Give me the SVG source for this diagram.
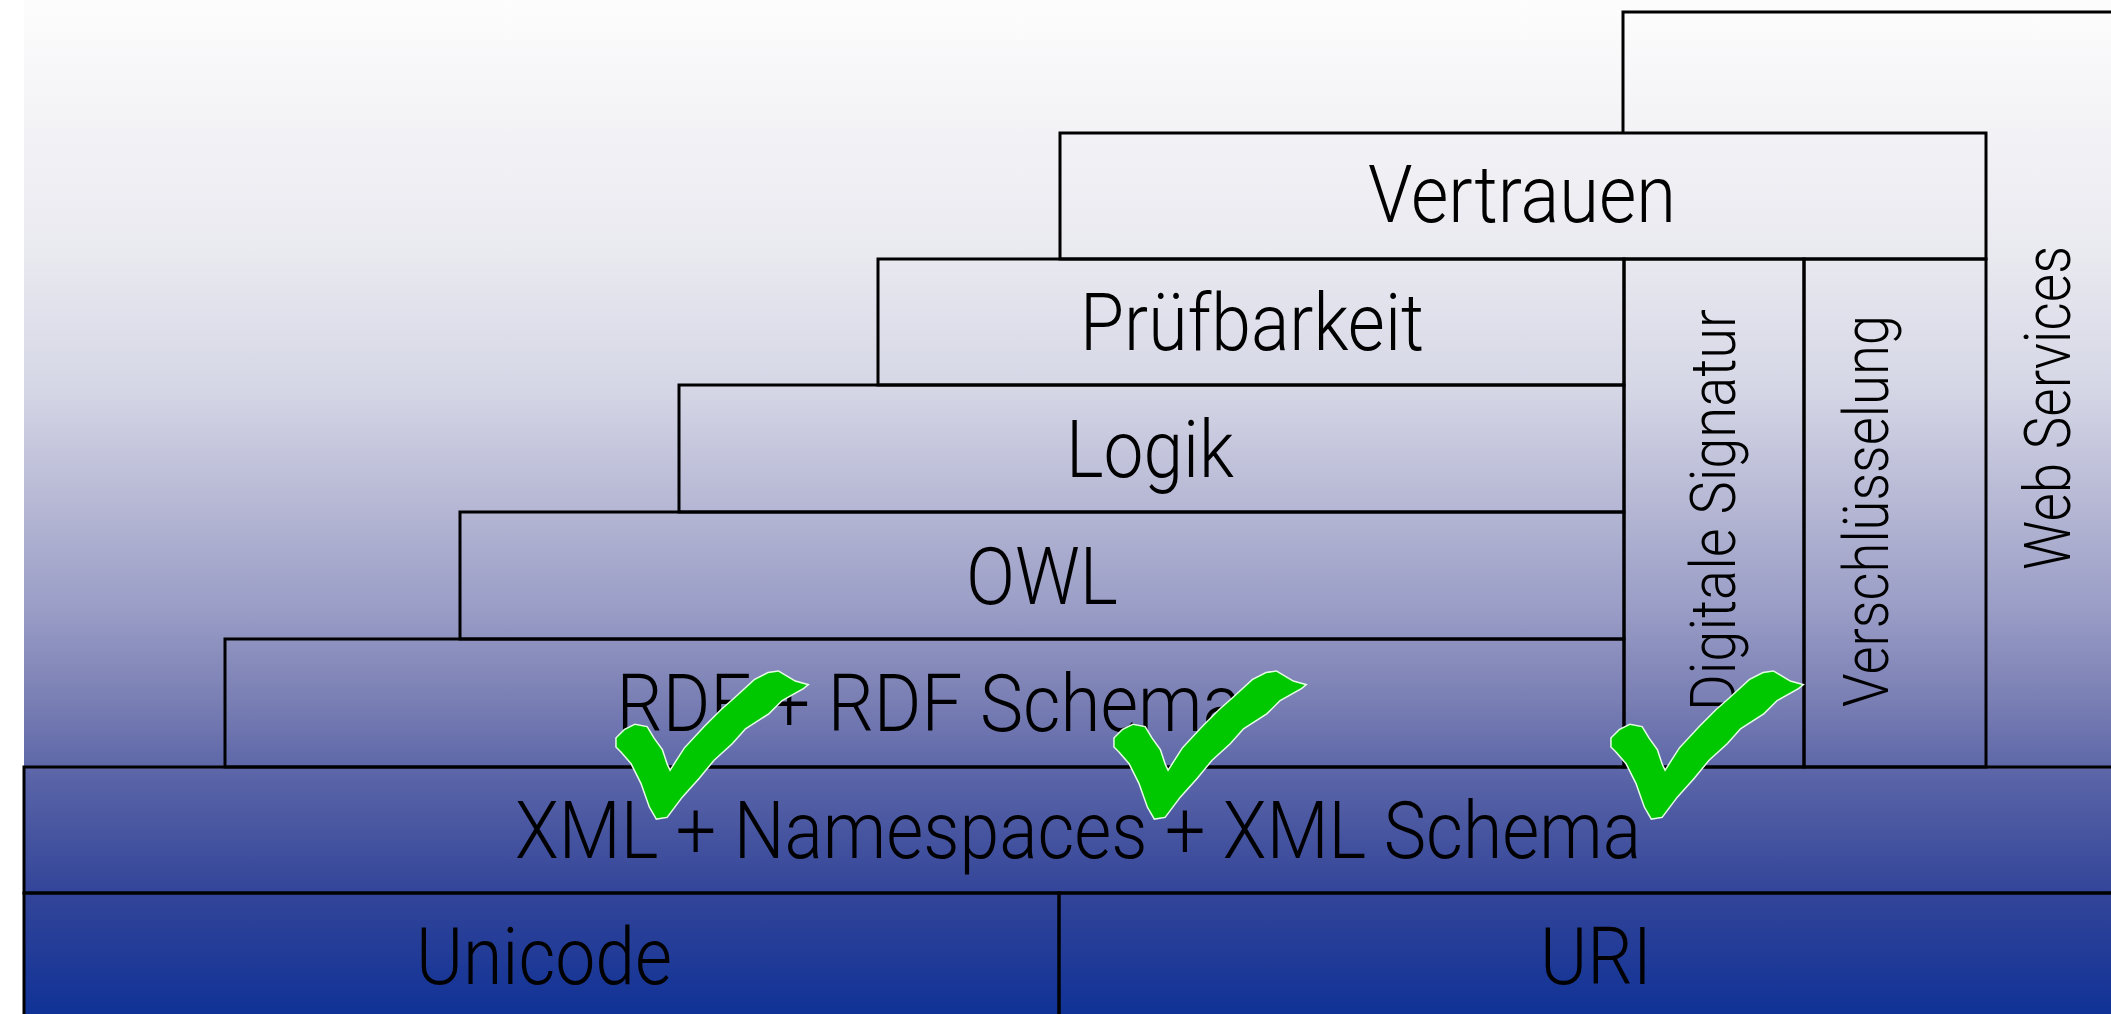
<svg xmlns="http://www.w3.org/2000/svg" xmlns:xlink="http://www.w3.org/1999/xlink" width="2111" height="1014" viewBox="0 0 2111 1014">
  <defs>
    <linearGradient id="bg" x1="0" y1="0" x2="0" y2="1014" gradientUnits="userSpaceOnUse">
      <stop offset="0" stop-color="#fdfdfd"/>
      <stop offset="0.25" stop-color="#e9e9f0"/>
      <stop offset="0.38" stop-color="#d6d7e6"/>
      <stop offset="0.5" stop-color="#b5b7d4"/>
      <stop offset="0.6" stop-color="#9a9dc6"/>
      <stop offset="0.69" stop-color="#7a7fb4"/>
      <stop offset="0.76" stop-color="#5c66a8"/>
      <stop offset="0.88" stop-color="#334599"/>
      <stop offset="1" stop-color="#103296"/>
    </linearGradient>
    <!-- hand-drawn style tick, origin at its bounding corner -->
    <path id="tick" d="M11.7,78.3 L20,70 L30,65 L41.7,67.3 L48.3,78.3 L56.7,90 L61.7,105 L65,111.7 L80,88.3 L100,66.7 L116.7,50 L130,38.3 L150,20 L163.3,13.3 L173.3,11.7 L190,21.7 L201.7,25 L198,28 L176.7,40 L163.3,53.3 L140,68.3 L126.7,83.3 L108.3,100 L93.3,118.3 L76.7,136.7 L61.7,156.7 L51.7,158.3 L45,146.7 L36.7,123.3 L26.7,103.3 L16.7,91.7 L11.7,86.7 Z"/>
  </defs>
  <style>
    .box { fill: none; stroke: #000; stroke-width: 3; }
    .lbl { font-family: Roboto, "Liberation Sans", Arial, sans-serif; font-weight: 300; font-size: 80px; fill: #000; text-anchor: middle; }
    .vlbl { font-family: Roboto, "Liberation Sans", Arial, sans-serif; font-weight: 300; font-size: 63px; fill: #000; text-anchor: middle; }
    .tick { fill: #00c800; stroke: #e4ffe4; stroke-width: 3; stroke-linejoin: miter; paint-order: stroke; }
  </style>

  <rect x="0" y="0" width="2111" height="1014" fill="#ffffff"/>
  <rect x="24" y="0" width="2087" height="1014" fill="url(#bg)"/>

  <g id="web-services">
    <!-- only the part not covered by the Vertrauen / security boxes is outlined -->
    <path class="box" d="M1623,133 V12 H2130"/>
    <text class="vlbl" style="font-size:65px" transform="translate(2070,408) rotate(-90)" textLength="324" lengthAdjust="spacingAndGlyphs">Web Services</text>
  </g>

  <g id="vertrauen">
    <rect class="box" x="1060" y="133" width="926" height="126"/>
    <text class="lbl" x="1522" y="222" textLength="308" lengthAdjust="spacingAndGlyphs">Vertrauen</text>
  </g>

  <g id="pruefbarkeit">
    <rect class="box" x="878" y="259" width="746" height="126"/>
    <text class="lbl" x="1252" y="350" textLength="344" lengthAdjust="spacingAndGlyphs">Prüfbarkeit</text>
  </g>

  <g id="logik">
    <rect class="box" x="679" y="385" width="945" height="127"/>
    <text class="lbl" x="1150" y="477" textLength="168" lengthAdjust="spacingAndGlyphs">Logik</text>
  </g>

  <g id="owl">
    <rect class="box" x="460" y="512" width="1164" height="127"/>
    <text class="lbl" x="1042" y="604" textLength="152" lengthAdjust="spacingAndGlyphs">OWL</text>
  </g>

  <g id="rdf">
    <rect class="box" x="225" y="639" width="1399" height="128"/>
    <text class="lbl" x="929" y="731" textLength="625" lengthAdjust="spacingAndGlyphs">RDF + RDF Schema</text>
  </g>

  <g id="digitale-signatur">
    <rect class="box" x="1624" y="259" width="180" height="508"/>
    <text class="vlbl" transform="translate(1735,510) rotate(-90)" textLength="402" lengthAdjust="spacingAndGlyphs">Digitale Signatur</text>
  </g>

  <g id="verschluesselung">
    <rect class="box" x="1804" y="259" width="182" height="508"/>
    <text class="vlbl" transform="translate(1888,511) rotate(-90)" textLength="392" lengthAdjust="spacingAndGlyphs">Verschlüsselung</text>
  </g>

  <g id="xml">
    <rect class="box" x="24" y="767" width="2200" height="126"/>
    <text class="lbl" x="1078" y="858" textLength="1126" lengthAdjust="spacingAndGlyphs">XML + Namespaces + XML Schema</text>
  </g>

  <g id="unicode">
    <rect class="box" x="24" y="893" width="1035" height="140"/>
    <text class="lbl" x="544" y="984" textLength="256" lengthAdjust="spacingAndGlyphs">Unicode</text>
  </g>

  <g id="uri">
    <rect class="box" x="1059" y="893" width="1200" height="140"/>
    <text class="lbl" x="1596" y="984" textLength="112" lengthAdjust="spacingAndGlyphs">URI</text>
  </g>

  <g id="ticks">
    <use xlink:href="#tick" href="#tick" class="tick" transform="translate(605,660)"/>
    <use xlink:href="#tick" href="#tick" class="tick" transform="translate(1103,660)"/>
    <use xlink:href="#tick" href="#tick" class="tick" transform="translate(1600,660)"/>
  </g>
</svg>
